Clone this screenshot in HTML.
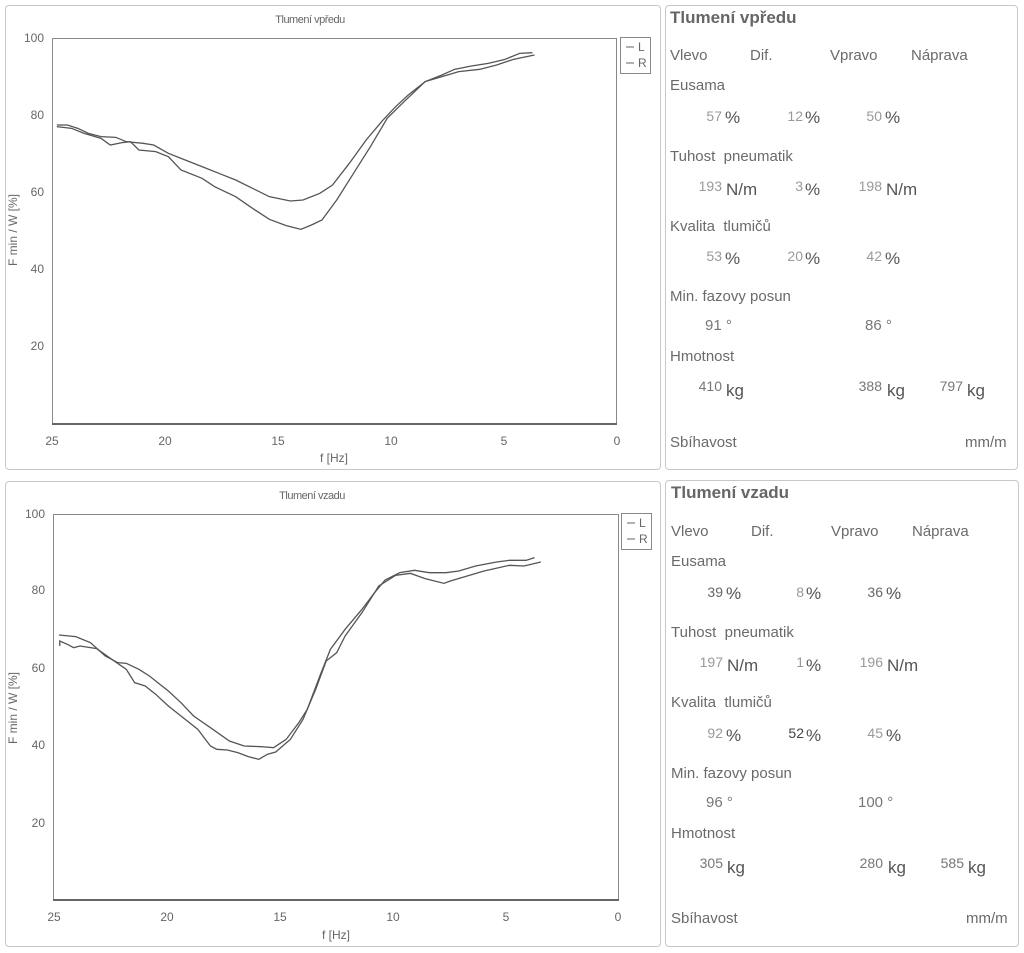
<!DOCTYPE html>
<html><head><meta charset="utf-8">
<style>
body{margin:0;width:1024px;height:953px;background:#fff;position:relative;overflow:hidden;font-family:"Liberation Sans",sans-serif;}
.box{position:absolute;border:1px solid #c8c8c8;border-radius:4px;}
.t{position:absolute;white-space:nowrap;color:#6a6a6a;font-size:15px;line-height:1;}
.h{font-weight:bold;font-size:17px;color:#666;}
.n{position:absolute;white-space:nowrap;color:#9a9a9a;font-size:14px;line-height:1;text-align:right;}
.u{position:absolute;white-space:nowrap;color:#555;font-size:17px;line-height:1;}
svg{position:absolute;left:0;top:0;}
</style></head><body>
<div class="box" style="left:5px;top:5px;width:654px;height:463px"></div>
<div class="box" style="left:665px;top:5px;width:351px;height:463px"></div>
<div class="box" style="left:5px;top:481px;width:654px;height:464px"></div>
<div class="box" style="left:665px;top:480px;width:352px;height:465px"></div>

<svg width="1024" height="953" font-family="Liberation Sans, sans-serif">
<g id="c1" fill="#666" font-size="12">
<text x="310" y="23" text-anchor="middle" font-size="11" letter-spacing="-0.5">Tlumení vpředu</text>
<rect x="52.5" y="38.5" width="564" height="386" fill="none" stroke="#888" stroke-width="1"/>
<line x1="52" y1="424" x2="617" y2="424" stroke="#666" stroke-width="2"/>
<text x="44" y="42" text-anchor="end">100</text>
<text x="44" y="119" text-anchor="end">80</text>
<text x="44" y="196" text-anchor="end">60</text>
<text x="44" y="273" text-anchor="end">40</text>
<text x="44" y="350" text-anchor="end">20</text>
<text x="52" y="445" text-anchor="middle">25</text>
<text x="165" y="445" text-anchor="middle">20</text>
<text x="278" y="445" text-anchor="middle">15</text>
<text x="391" y="445" text-anchor="middle">10</text>
<text x="504" y="445" text-anchor="middle">5</text>
<text x="617" y="445" text-anchor="middle">0</text>
<text x="334" y="462" text-anchor="middle">f [Hz]</text>
<text transform="translate(17,230) rotate(-90)" text-anchor="middle">F min / W  [%]</text>
<rect x="620.5" y="37.5" width="30" height="36" fill="none" stroke="#888"/>
<line x1="626" y1="47" x2="634" y2="47" stroke="#666"/><text x="638" y="51">L</text>
<line x1="626" y1="63" x2="634" y2="63" stroke="#666"/><text x="638" y="67">R</text>
</g>
<g transform="scale(0.42088,0.33333)" fill="none" stroke="#555" stroke-width="1.3">
<polyline vector-effect="non-scaling-stroke" points="135,375 160,375 185,385 210,400 240,410 275,412 300,425 340,430 365,435 400,460 440,480 480,500 520,520 560,540 600,565 640,590 690,603 720,600 760,580 790,555 830,490 870,420 910,360 940,320 970,285 1010,245 1050,225 1080,208 1120,198 1160,190 1200,178 1235,160 1265,158"/>
<polyline vector-effect="non-scaling-stroke" points="135,380 170,385 200,400 240,415 262,435 290,428 310,425 330,450 370,455 400,470 430,510 480,535 510,560 560,590 600,625 640,658 680,677 715,688 740,675 765,660 800,600 840,520 880,440 920,355 960,305 1010,245 1050,230 1090,215 1140,208 1180,195 1220,178 1270,165"/>
</g>

<g fill="#666" font-size="12" transform="translate(0,476)">
<text x="312" y="23" text-anchor="middle" font-size="11" letter-spacing="-0.5">Tlumení vzadu</text>
<rect x="53.5" y="38.5" width="565" height="386" fill="none" stroke="#888" stroke-width="1"/>
<line x1="53" y1="424" x2="619" y2="424" stroke="#666" stroke-width="2"/>
<text x="45" y="42" text-anchor="end">100</text>
<text x="45" y="118" text-anchor="end">80</text>
<text x="45" y="196" text-anchor="end">60</text>
<text x="45" y="273" text-anchor="end">40</text>
<text x="45" y="351" text-anchor="end">20</text>
<text x="54" y="445" text-anchor="middle">25</text>
<text x="167" y="445" text-anchor="middle">20</text>
<text x="280" y="445" text-anchor="middle">15</text>
<text x="393" y="445" text-anchor="middle">10</text>
<text x="506" y="445" text-anchor="middle">5</text>
<text x="618" y="445" text-anchor="middle">0</text>
<text x="336" y="463" text-anchor="middle">f [Hz]</text>
<text transform="translate(17,232) rotate(-90)" text-anchor="middle">F min / W  [%]</text>
<rect x="621.5" y="37.5" width="30" height="36" fill="none" stroke="#888"/>
<line x1="627" y1="47" x2="635" y2="47" stroke="#666"/><text x="639" y="51">L</text>
<line x1="627" y1="63" x2="635" y2="63" stroke="#666"/><text x="639" y="67">R</text>
</g>
<g transform="translate(0,476) scale(0.42088,0.33333)" fill="none" stroke="#555" stroke-width="1.3">
<polyline vector-effect="non-scaling-stroke" points="140,477 180,482 215,500 250,540 280,560 300,562 330,580 355,600 380,625 400,645 430,680 460,720 500,755 545,795 580,810 620,812 650,815 680,790 710,740 730,700 760,600 785,520 820,460 860,400 890,350 915,312 950,290 985,283 1020,290 1060,290 1090,285 1130,270 1180,258 1210,253 1250,253 1270,245"/>
<polyline vector-effect="non-scaling-stroke" points="142,510 142,495 160,505 175,515 190,510 230,518 260,545 300,580 320,620 345,630 370,655 400,690 430,720 470,760 500,810 515,820 540,822 565,830 590,842 615,850 635,835 655,828 690,790 720,730 750,640 775,555 800,530 820,480 860,410 900,330 940,298 975,292 1010,308 1055,322 1070,315 1110,300 1150,285 1210,268 1245,270 1285,258"/>
</g>
</svg>

<!-- top panel -->
<div class="t h" style="left:670px;top:9px">Tlumení vpředu</div>
<div class="t" style="left:670px;top:48px">Vlevo</div>
<div class="t" style="left:750px;top:48px">Dif.</div>
<div class="t" style="left:830px;top:48px">Vpravo</div>
<div class="t" style="left:911px;top:48px">Náprava</div>
<div class="t" style="left:670px;top:78px">Eusama</div>
<div class="n" style="left:680px;width:42px;top:109px">57</div><div class="u" style="left:725px;top:109px">%</div>
<div class="n" style="left:760px;width:43px;top:109px">12</div><div class="u" style="left:805px;top:109px">%</div>
<div class="n" style="left:840px;width:42px;top:109px">50</div><div class="u" style="left:885px;top:109px">%</div>
<div class="t" style="left:670px;top:149px">Tuhost&nbsp; pneumatik</div>
<div class="n" style="left:680px;width:42px;top:179px">193</div><div class="u" style="left:726px;top:181px">N/m</div>
<div class="n" style="left:760px;width:43px;top:179px">3</div><div class="u" style="left:805px;top:181px">%</div>
<div class="n" style="left:840px;width:42px;top:179px">198</div><div class="u" style="left:886px;top:181px">N/m</div>
<div class="t" style="left:670px;top:219px">Kvalita&nbsp; tlumičů</div>
<div class="n" style="left:680px;width:42px;top:249px">53</div><div class="u" style="left:725px;top:250px">%</div>
<div class="n" style="left:760px;width:43px;top:249px">20</div><div class="u" style="left:805px;top:250px">%</div>
<div class="n" style="left:840px;width:42px;top:249px">42</div><div class="u" style="left:885px;top:250px">%</div>
<div class="t" style="left:670px;top:289px">Min. fazovy posun</div>
<div class="t" style="left:705px;top:318px;color:#777">91 °</div>
<div class="t" style="left:865px;top:318px;color:#777">86 °</div>
<div class="t" style="left:670px;top:349px">Hmotnost</div>
<div class="n" style="left:680px;width:42px;top:379px;color:#777">410</div><div class="u" style="left:726px;top:382px">kg</div>
<div class="n" style="left:840px;width:42px;top:379px;color:#777">388</div><div class="u" style="left:887px;top:382px">kg</div>
<div class="n" style="left:921px;width:42px;top:379px;color:#777">797</div><div class="u" style="left:967px;top:382px">kg</div>
<div class="t" style="left:670px;top:435px">Sbíhavost</div>
<div class="t" style="left:965px;top:435px">mm/m</div>

<!-- bottom panel -->
<div class="t h" style="left:671px;top:484px">Tlumení vzadu</div>
<div class="t" style="left:671px;top:524px">Vlevo</div>
<div class="t" style="left:751px;top:524px">Dif.</div>
<div class="t" style="left:831px;top:524px">Vpravo</div>
<div class="t" style="left:912px;top:524px">Náprava</div>
<div class="t" style="left:671px;top:554px">Eusama</div>
<div class="n" style="left:681px;width:42px;top:585px;color:#666">39</div><div class="u" style="left:726px;top:585px">%</div>
<div class="n" style="left:761px;width:43px;top:585px">8</div><div class="u" style="left:806px;top:585px">%</div>
<div class="n" style="left:841px;width:42px;top:585px;color:#666">36</div><div class="u" style="left:886px;top:585px">%</div>
<div class="t" style="left:671px;top:625px">Tuhost&nbsp; pneumatik</div>
<div class="n" style="left:681px;width:42px;top:655px">197</div><div class="u" style="left:727px;top:657px">N/m</div>
<div class="n" style="left:761px;width:43px;top:655px">1</div><div class="u" style="left:806px;top:657px">%</div>
<div class="n" style="left:841px;width:42px;top:655px">196</div><div class="u" style="left:887px;top:657px">N/m</div>
<div class="t" style="left:671px;top:695px">Kvalita&nbsp; tlumičů</div>
<div class="n" style="left:681px;width:42px;top:726px">92</div><div class="u" style="left:726px;top:727px">%</div>
<div class="n" style="left:761px;width:43px;top:726px;color:#444">52</div><div class="u" style="left:806px;top:727px">%</div>
<div class="n" style="left:841px;width:42px;top:726px">45</div><div class="u" style="left:886px;top:727px">%</div>
<div class="t" style="left:671px;top:766px">Min. fazovy posun</div>
<div class="t" style="left:706px;top:795px;color:#777">96 °</div>
<div class="t" style="left:858px;top:795px;color:#777">100 °</div>
<div class="t" style="left:671px;top:826px">Hmotnost</div>
<div class="n" style="left:681px;width:42px;top:856px;color:#777">305</div><div class="u" style="left:727px;top:859px">kg</div>
<div class="n" style="left:841px;width:42px;top:856px;color:#777">280</div><div class="u" style="left:888px;top:859px">kg</div>
<div class="n" style="left:922px;width:42px;top:856px;color:#777">585</div><div class="u" style="left:968px;top:859px">kg</div>
<div class="t" style="left:671px;top:911px">Sbíhavost</div>
<div class="t" style="left:966px;top:911px">mm/m</div>
</body></html>
